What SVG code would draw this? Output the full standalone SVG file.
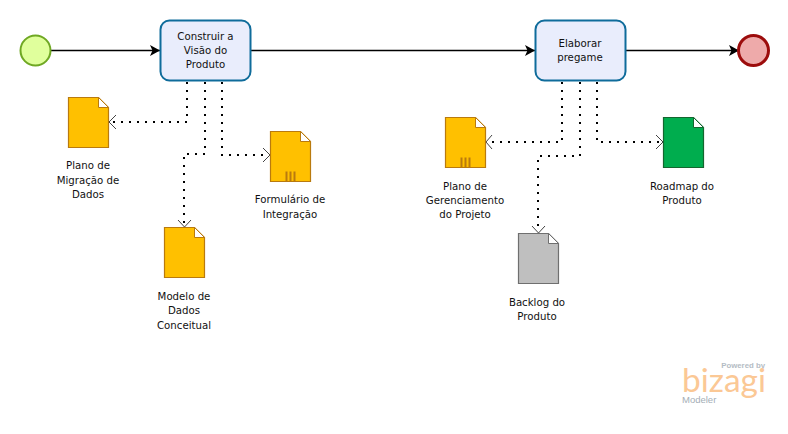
<svg xmlns="http://www.w3.org/2000/svg" width="788" height="434" viewBox="0 0 788 434">
<style>
text{font-family:"DejaVu Sans","Liberation Sans",sans-serif;font-size:10.200px;fill:#111;text-anchor:middle}
.flow{fill:none;stroke:#000;stroke-width:1.300}
.assoc{fill:none;stroke:#000;stroke-width:2;stroke-dasharray:2 6}
.task{fill:#e9edfc;stroke:#0f6c9b;stroke-width:2}
.doc{stroke-width:1.200}
.y{fill:#ffc000;stroke:#b97a0e}
.g{fill:#00ad4e;stroke:#14662f}
.k{fill:#bfbfbf;stroke:#6f6f6f}
.fold{fill:#fff;stroke-width:1}
.bars{stroke:#b97a0e;stroke-width:2;fill:none}
.open{fill:none;stroke:#444;stroke-width:1}
</style>
<defs>
<marker id="arrow" markerWidth="12" markerHeight="12" refX="10" refY="6" orient="auto" markerUnits="userSpaceOnUse"><path d="M0,0.500 L10,6 L0,11.500 L2.500,6 Z" fill="#000"/></marker>
</defs>
<g id="connectors">
<path class="flow" d="M51,50.500H160" marker-end="url(#arrow)"/>
<path class="flow" d="M250,50.500H535" marker-end="url(#arrow)"/>
<path class="flow" d="M625,50.500H739" marker-end="url(#arrow)"/>
<path class="assoc" d="M187,82V122H112"/><path class="open" d="M116,115L109,122L116,129"/>
<path class="assoc" d="M205,82V154H184V223"/><path class="open" d="M178,220L184.500,227L191,220"/>
<path class="assoc" d="M222,82V155H266"/><path class="open" d="M263,148L270,155L263,162"/>
<path class="assoc" d="M562,82V142H490"/><path class="open" d="M492,135L486,142L492,149"/>
<path class="assoc" d="M580,82V156H538V229"/><path class="open" d="M532,226L538.500,233L545,226"/>
<path class="assoc" d="M597,82V142H659"/><path class="open" d="M656,135L663,142L656,149"/>
</g>
<g id="start"><circle cx="35.500" cy="50.500" r="15" fill="#e0ff9c" stroke="#6fa823" stroke-width="2"/></g>
<g id="task1"><rect class="task" x="160.500" y="20.500" width="90" height="60" rx="9"/><text x="205.500" y="39.500">Construir a</text><text x="205.500" y="54">Visão do</text><text x="205.500" y="68">Produto</text></g>
<g id="task2"><rect class="task" x="535.500" y="20.500" width="90" height="60" rx="9"/><text x="580" y="47">Elaborar</text><text x="580" y="61">pregame</text></g>
<g id="end"><circle cx="753.500" cy="50.500" r="15" fill="#eeaaaa" stroke="#9c0c0c" stroke-width="3"/></g>
<g id="doc-migracao" transform="translate(68.500 97.500)"><path class="doc y" d="M0,0H30L40,10V50H0Z"/><path class="fold y" d="M30,0V10H40Z"/></g>
<g id="label-migracao"><text x="88" y="169">Plano de</text><text x="88" y="184">Migração de</text><text x="88" y="198">Dados</text></g>
<g id="doc-form" transform="translate(270.500 131.500)"><path class="doc y" d="M0,0H30L40,10V50H0Z"/><path class="fold y" d="M30,0V10H40Z"/><path class="bars" d="M16,40V50M20,40V50M24,40V50"/></g>
<g id="label-form"><text x="290" y="203">Formulário de</text><text x="290" y="218">Integração</text></g>
<g id="doc-modelo" transform="translate(164.500 227.500)"><path class="doc y" d="M0,0H30L40,10V50H0Z"/><path class="fold y" d="M30,0V10H40Z"/></g>
<g id="label-modelo"><text x="184" y="300">Modelo de</text><text x="184" y="314">Dados</text><text x="184" y="329">Conceitual</text></g>
<g id="doc-gerenciamento" transform="translate(445.500 117.500)"><path class="doc y" d="M0,0H30L40,10V50H0Z"/><path class="fold y" d="M30,0V10H40Z"/><path class="bars" d="M16,40V50M20,40V50M24,40V50"/></g>
<g id="label-gerenciamento"><text x="465" y="190">Plano de</text><text x="465" y="204">Gerenciamento</text><text x="465" y="218">do Projeto</text></g>
<g id="doc-roadmap" transform="translate(663.500 117.500)"><path class="doc g" d="M0,0H30L40,10V50H0Z"/><path class="fold g" d="M30,0V10H40Z"/></g>
<g id="label-roadmap"><text x="682" y="190">Roadmap do</text><text x="682" y="204">Produto</text></g>
<g id="doc-backlog" transform="translate(518.500 233.500)"><path class="doc k" d="M0,0H30L40,10V50H0Z"/><path class="fold k" d="M30,0V10H40Z"/></g>
<g id="label-backlog"><text x="537" y="306">Backlog do</text><text x="537" y="320">Produto</text></g>
<g id="logo">
<text x="765" y="368" style="font-family:'Liberation Sans',sans-serif;font-size:7.800px;font-weight:bold;fill:#b4bcc4;text-anchor:end">Powered by</text>
<text x="724" y="392" style="font-family:'Lato',sans-serif;font-size:32px;font-weight:400;fill:#fbc895" textLength="84" lengthAdjust="spacingAndGlyphs">bizagi</text>
<text x="682" y="403" style="font-family:'Liberation Sans',sans-serif;font-size:9.500px;fill:#a4aeb6;text-anchor:start">Modeler</text>
</g>
</svg>
